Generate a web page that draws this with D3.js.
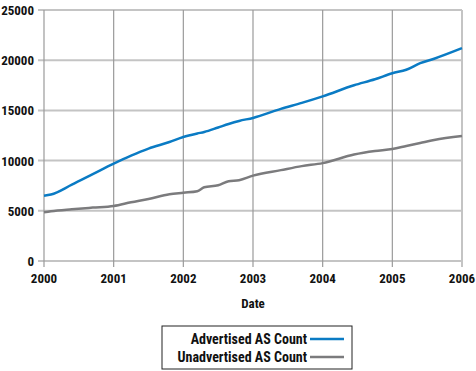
<!doctype html>
<html>
<head>
<script src="https://cdnjs.cloudflare.com/ajax/libs/d3/7.8.5/d3.min.js"></script>
<style>
  body { margin: 0; background: #fff; }
  text { font-family: "Liberation Sans Narrow", "Roboto Condensed", "Liberation Sans", sans-serif; font-weight: bold; fill: #111; }
</style>
</head>
<body>
<svg id="chart" width="476" height="371"></svg>
<script>
// values
var years = [2000, 2000.1, 2000.4, 2000.7, 2001, 2001.25, 2001.5, 2001.8, 2002, 2002.2, 2002.3, 2002.5,
             2002.65, 2002.8, 2003, 2003.4, 2003.7, 2004, 2004.45, 2004.75, 2005, 2005.2, 2005.4, 2005.6, 2006];
var advertised = [6500, 6620, 7600, 8650, 9700, 10500, 11200, 11850, 12350, 12700, 12850, 13300,
                  13650, 13950, 14250, 15150, 15750, 16400, 17500, 18100, 18700, 19050, 19700, 20150, 21200];
var unadvertised = [4850, 4950, 5150, 5320, 5480, 5850, 6180, 6650, 6800, 6950, 7350, 7550,
                    7950, 8050, 8500, 9050, 9450, 9750, 10600, 10950, 11150, 11450, 11750, 12050, 12450];
var xTicks = [2000, 2001, 2002, 2003, 2004, 2005, 2006];
var yTicks = [0, 5000, 10000, 15000, 20000, 25000];
var seriesNames = ["Advertised AS Count", "Unadvertised AS Count"];
var seriesColors = ["#0a7bc4", "#7b7b7d"];

var svg = d3.select("#chart");
var x = d3.scaleLinear().domain([2000, 2006]).range([44, 462]);
var y = d3.scaleLinear().domain([0, 25000]).range([261, 10]);

// horizontal grid
svg.append("g").selectAll("line").data(yTicks).enter().append("line")
  .attr("x1", 38).attr("x2", x(2006))
  .attr("y1", d => y(d)).attr("y2", d => y(d))
  .attr("stroke", "#c4c4c4").attr("stroke-width", 2);

// vertical grid
svg.append("g").selectAll("line").data(xTicks).enter().append("line")
  .attr("x1", d => x(d)).attr("x2", d => x(d))
  .attr("y1", y(25000)).attr("y2", 267)
  .attr("stroke", d => d == 2006 ? "#c4c4c4" : "#9a9a9a")
  .attr("stroke-width", d => d == 2006 ? 2 : 1.2);

// labels
svg.append("g").selectAll("text").data(yTicks).enter().append("text")
  .attr("x", 34).attr("y", d => y(d) + 5)
  .attr("text-anchor", "end").style("font-size", "13px")
  .text(d => d);

svg.append("g").selectAll("text").data(xTicks).enter().append("text")
  .attr("x", d => x(d)).attr("y", 283)
  .attr("text-anchor", "middle").style("font-size", "13px")
  .text(d => d);

svg.append("text").attr("x", 253).attr("y", 308)
  .attr("text-anchor", "middle").style("font-size", "13px").text("Date");

// lines
var line = d3.line().x((d, i) => x(years[i])).y(d => y(d)).curve(d3.curveMonotoneX);
[advertised, unadvertised].forEach(function(vals, k) {
  svg.append("path").datum(vals)
    .attr("d", line)
    .attr("fill", "none")
    .attr("stroke", seriesColors[k])
    .attr("stroke-width", 2.5);
});

// legend
var lg = svg.append("g");
lg.append("rect").attr("x", 162).attr("y", 326).attr("width", 190).attr("height", 43)
  .attr("fill", "#fff").attr("stroke", "#222").attr("stroke-width", 1);
seriesNames.forEach(function(name, k) {
  var yy = 339 + k * 18;
  lg.append("text").attr("x", 307).attr("y", yy + 5)
    .attr("text-anchor", "end").style("font-size", "14px").text(name);
  lg.append("line").attr("x1", 310).attr("x2", 344).attr("y1", yy).attr("y2", yy)
    .attr("stroke", seriesColors[k]).attr("stroke-width", 2.5);
});
</script>
</body>
</html>
